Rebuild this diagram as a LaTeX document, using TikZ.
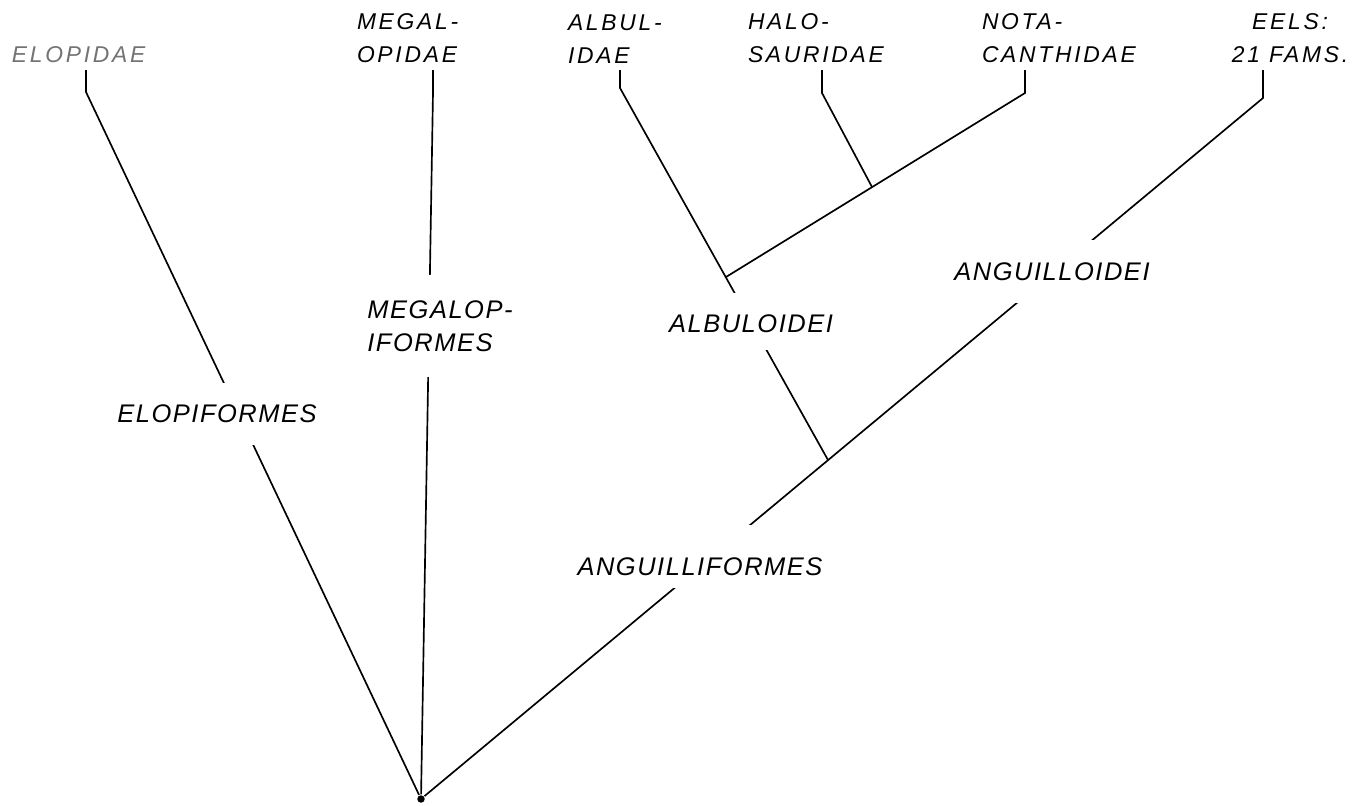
\documentclass[tikz,border=0pt]{standalone}
\usepackage{fontspec}
\newfontfamily\tipfont[LetterSpace=12]{Liberation Sans}
\newfontfamily\rankfont[LetterSpace=6]{Liberation Sans}

\begin{document}
\begin{tikzpicture}[x=0.02cm,y=-0.02cm,line width=0.95pt,
  tip/.style={inner sep=0pt,outer sep=0.14cm,align=left,
    font=\tipfont\itshape\fontsize{13}{18.7}\selectfont},
  rank/.style={fill=white,inner xsep=3pt,
    font=\rankfont\itshape\fontsize{14.5}{18.7}\selectfont},
  gap/.style 2 args={anchor=base,text depth=0pt,text height=#1,inner ysep=#2}]
\useasboundingbox (0,0) rectangle (1372,805);
\node[circle,fill,inner sep=1.5pt] (root) at (421,799) {};
% families
\node[tip,anchor=south west,text=black!55] (elopidae) at (5,70) {ELOPIDAE};
\node[tip,anchor=south west] (megalopidae) at (350,70) {MEGAL-\\OPIDAE};
\node[tip,anchor=south west] (albulidae) at (561,70) {ALBUL-\\IDAE};
\node[tip,anchor=south west] (halosauridae) at (741,70) {HALO-\\SAURIDAE};
\node[tip,anchor=south west] (notacanthidae) at (975,70) {NOTA-\\CANTHIDAE};
\node[tip,anchor=south,align=center] (eels) at (1290,70) {EELS:\\21 FAMS.};
% bends under the names, and forks
\coordinate (elBend) at (86,92);
\coordinate (megBend) at (433,92);
\coordinate (albBend) at (620,88);
\coordinate (halBend) at (822,93);
\coordinate (notBend) at (1025,93);
\coordinate (eelBend) at (1263,98);
\coordinate (angFork) at (828,460);
\coordinate (albFork) at (726,277);
\coordinate (halFork) at (872,187);
% branches
\draw (root) -- (elBend) -- (elopidae.south -| elBend);
\draw (root) -- (megBend) -- (megalopidae.south -| megBend);
\draw (root) -- (eelBend) -- (eels.south -| eelBend);
\draw (angFork) -- (albBend) -- (albulidae.south -| albBend);
\draw (albFork) -- (notBend) -- (notacanthidae.south -| notBend);
\draw (halFork) -- (halBend) -- (halosauridae.south -| halBend);
% orders and suborders
\node[rank,gap={0.32cm}{0.46cm}] (elopiformes) at (217,422) {ELOPIFORMES};
\node[rank,align=left,inner ysep=0.52cm] (megalopiformes) at (440,326) {MEGALOP-\\IFORMES};
\node[rank,gap={0.42cm}{0.36cm}] (albuloidei) at (751,332) {ALBULOIDEI};
\node[rank,gap={0.34cm}{0.46cm}] (anguilloidei) at (1052,280) {ANGUILLOIDEI};
\node[rank,gap={0.74cm}{0.26cm}] (anguilliformes) at (700,575) {ANGUILLIFORMES};
\end{tikzpicture}
\end{document}
